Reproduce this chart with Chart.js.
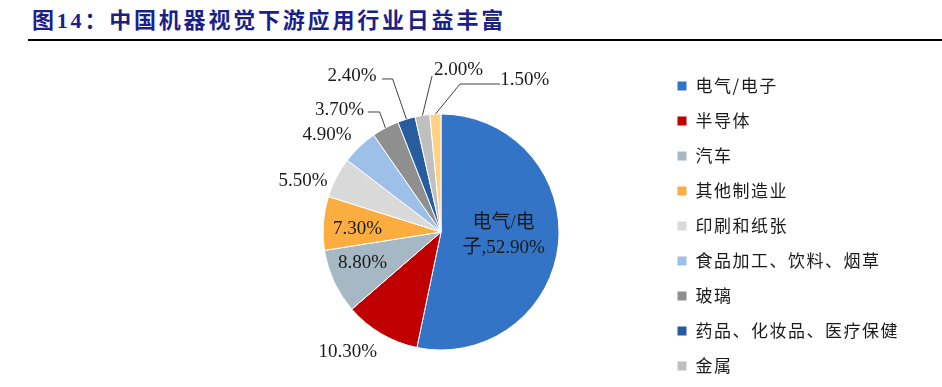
<!DOCTYPE html>
<html>
<head>
<meta charset="utf-8">
<script src="https://cdn.jsdelivr.net/npm/chart.js@4.4.1/dist/chart.umd.min.js"></script>
<style>
    html, body { margin: 0; padding: 0; background: #fff; overflow: hidden; width: 942px; height: 387px; }
    #title {
        position: absolute; left: 32px; top: 10px;
        font: bold 22px/22px "Liberation Serif", "Noto Sans CJK SC";
        color: #1b1f8a; letter-spacing: 2.8px; white-space: nowrap;
    }
    #rule { position: absolute; left: 28px; top: 39px; width: 914px; height: 2px; background: #000; }
    #wrap { position: absolute; left: 0; top: 42px; width: 942px; height: 400px; }
</style>
</head>
<body>
<div id="title">图14：中国机器视觉下游应用行业日益丰富</div>
<div id="rule"></div>
<div id="wrap"><canvas id="pie_chart" width="942" height="400"></canvas></div>
<script>
const categories = ['电气/电子', '半导体', '汽车', '其他制造业', '印刷和纸张',
    '食品加工、饮料、烟草', '玻璃', '药品、化妆品、医疗保健', '金属', '其他'];
const shares = [52.9, 10.3, 8.8, 7.3, 5.5, 4.9, 3.7, 2.4, 2.0, 1.5];
const sliceColors = ['#3474c6', '#c00000', '#a5b8c3', '#fbae3f', '#d9d9d9',
    '#9dc0e8', '#8f8f8f', '#275d9e', '#bfbfbf', '#ffd184'];

// label spots in units of the radius, measured from the pie centre
const labelPlace = [
    {dx: 0.53, dy: 0.03},
    {dx: -0.79, dy: 1.02},
    {dx: -0.665, dy: 0.263},
    {dx: -0.708, dy: -0.025},
    {dx: -1.169, dy: -0.432},
    {dx: -0.966, dy: -0.822},
    {dx: -0.86, dy: -1.034, elbow: [-0.52, -1.017], end: [-0.62, -1.017]},
    {dx: -0.754, dy: -1.322, elbow: [-0.41, -1.297], end: [-0.50, -1.297]},
    {dx: 0.148, dy: -1.369, elbow: [-0.076, -1.322]},
    {dx: 0.71, dy: -1.29, elbow: [0.161, -1.254], end: [0.50, -1.254]}
];

const legendSpacing = '1.5px';
const pieRadius = 118;
const pieCenterX = 441;
const legendLeft = 659;

const spacing = {
    id: 'spacing',
    beforeLayout(chart) { chart.ctx.letterSpacing = legendSpacing; },
    beforeDraw(chart) { chart.ctx.letterSpacing = legendSpacing; }
};

const sliceLabels = {
    id: 'sliceLabels',
    afterDatasetsDraw(chart) {
        const ctx = chart.ctx;
        const arcs = chart.getDatasetMeta(0).data;
        ctx.save();
        ctx.letterSpacing = '0px';
        ctx.fillStyle = '#1a1a1a';
        ctx.strokeStyle = '#404040';
        ctx.lineWidth = 1;
        ctx.textAlign = 'center';
        ctx.textBaseline = 'middle';
        ctx.font = '19px "Liberation Serif", "Noto Sans CJK SC"';
        arcs.forEach((arc, i) => {
            const p = labelPlace[i];
            const {x, y, outerRadius, startAngle, endAngle} =
                arc.getProps(['x', 'y', 'outerRadius', 'startAngle', 'endAngle'], true);
            const r = outerRadius;
            const mid = (startAngle + endAngle) / 2;
            if (p.elbow) {
                ctx.beginPath();
                ctx.moveTo(x + r * Math.cos(mid), y + r * Math.sin(mid));
                ctx.lineTo(x + p.elbow[0] * r, y + p.elbow[1] * r);
                if (p.end) ctx.lineTo(x + p.end[0] * r, y + p.end[1] * r);
                ctx.stroke();
            }
            const pct = shares[i].toFixed(2) + '%';
            let lines = [pct];
            if (i === 0) {
                const full = categories[0] + ',' + pct;
                lines = [full.slice(0, 4), full.slice(4)];
            }
            const lh = 25;
            lines.forEach((t, k) => {
                const ty = y + p.dy * r + (k - (lines.length - 1) / 2) * lh;
                ctx.fillText(t, x + p.dx * r, ty);
            });
        });
        ctx.restore();
    }
};

const ctx = document.querySelector('#pie_chart');
const chart = new Chart(ctx, {
    type: 'pie',
    data: {
        labels: categories,
        datasets: [{
            data: shares,
            backgroundColor: sliceColors,
            borderColor: '#ffffff',
            borderWidth: 1
        }]
    },
    options: {
        responsive: false,
        animation: false,
        radius: pieRadius,
        layout: {
            padding: {left: 2 * pieCenterX - legendLeft, right: 40, top: 17.5, bottom: 37.5}
        },
        plugins: {
            tooltip: {enabled: false},
            legend: {
                position: 'right',
                align: 'start',
                labels: {
                    boxWidth: 10,
                    boxHeight: 10,
                    padding: 18,
                    color: '#1a1a1a',
                    font: {family: '"Noto Sans CJK SC"', size: 17},
                    filter: (item) => item.index < 9
                }
            }
        }
    },
    plugins: [spacing, sliceLabels]
});

// nudge the right padding so the legend starts where the original has it
const shift = chart.legend.left - legendLeft;
if (Math.abs(shift) > 0.5) {
    chart.options.layout.padding.right += shift;
    chart.update();
}
</script>
</body>
</html>
